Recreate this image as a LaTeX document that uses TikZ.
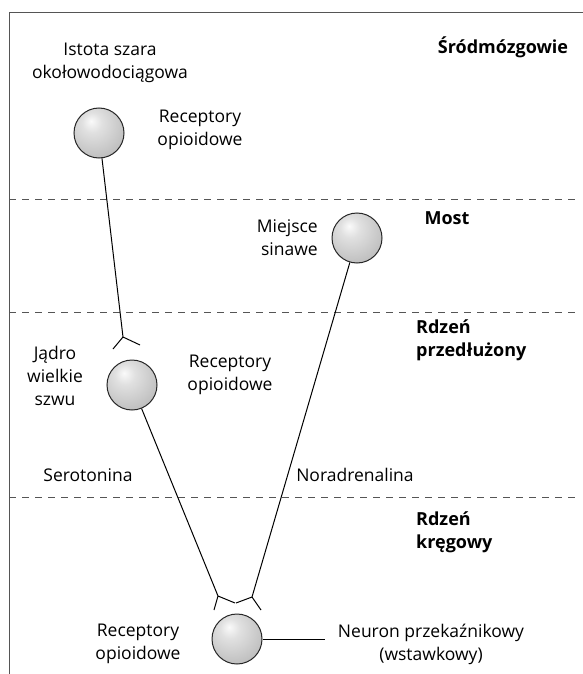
\documentclass[tikz,border=0pt]{standalone}
\usepackage{fontspec}
\setmainfont{Open Sans}
\usetikzlibrary{
  positioning,
  calc
}
\definecolor{frame}{HTML}{555555}
\pgfdeclareradialshading{sphere}{\pgfpoint{-8bp}{12bp}}{%
  color(0bp)=(gray!4); color(10bp)=(gray!24); color(34bp)=(gray!52);
  color(56bp)=(gray!72); color(80bp)=(gray!78)}

\begin{document}
\begin{tikzpicture}[
  x=1pt, y=-1pt,
  lbl/.style={font=\fontsize{17.5}{23}\selectfont, align=center, inner sep=0pt},
  head/.style={font=\fontsize{18}{23}\selectfont\bfseries, inner sep=0pt},
  region/.style={head, align=left, anchor=west},
  neuron/.style={circle, minimum size=50pt, inner sep=0pt, draw=black!85,
                 line width=1pt, shading=sphere},
  axon/.style={draw, line width=1pt},
  level/.style={draw=frame, dash pattern=on 7pt off 6pt, line width=0.9pt}
]
  \useasboundingbox (0,0) rectangle (583,674);

  % Frame and levels
  \draw[frame, line width=1pt] (9,674) -- (9,13) -- (583,13);
  \foreach \y in {199,312,497}
    \draw[level] (9,\y) -- (578,\y);

  % Regions
  \node[head] (midbrain) at (503,47) {Śródmózgowie};
  \node[head] (pons) at (447,218) {Most};
  \node[region] (medulla) at (416,340) {Rdzeń\\przedłużony};
  \node[region] (cord) at (416,532) {Rdzeń\\kręgowy};

  % Neurons
  \node[neuron] (pag) at (99,133) {};
  \node[neuron] (lc) at (357,238) {};
  \node[neuron] (raphe) at (132,385) {};
  \node[neuron] (spinal) at (237,639) {};

  % Labels
  \node[lbl] (pagtxt) at (110,63) {Istota szara\\okołowodociągowa};
  \node[lbl] (rec1) at (200,130) {Receptory\\opioidowe};
  \node[lbl, anchor=east, align=right] (lctxt) at (318,238) {Miejsce\\sinawe};
  \node[lbl] (raphetxt) at (55,376) {Jądro\\wielkie\\szwu};
  \node[lbl] (rec2) at (230,375) {Receptory\\opioidowe};
  \node[lbl] (sero) at (88,475) {Serotonina};
  \node[lbl] (nora) at (355,475) {Noradrenalina};
  \node[lbl] (rec3) at (138,644) {Receptory\\opioidowe};
  \node[lbl] (relay) at (431,644) {Neuron przekaźnikowy\\(wstawkowy)};

  % Pathways with synapses
  \coordinate (s1) at (123,337);
  \coordinate (s2) at (218,596);
  \coordinate (s3) at (252,597);
  \coordinate (relayend) at (325,639);

  \draw[axon] (pag) -- (s1);
  \draw[axon] (s1) -- ++(-10,12) (s1) -- ++(17,8);
  \draw[axon] (raphe) -- (s2);
  \draw[axon] (s2) -- ++(-4,14) (s2) -- ++(17,7);
  \draw[axon] (lc) -- (s3);
  \draw[axon] (s3) -- ++(-16,6) (s3) -- ++(9,13);
  \draw[axon] (spinal) -- (relayend);
\end{tikzpicture}
\end{document}
